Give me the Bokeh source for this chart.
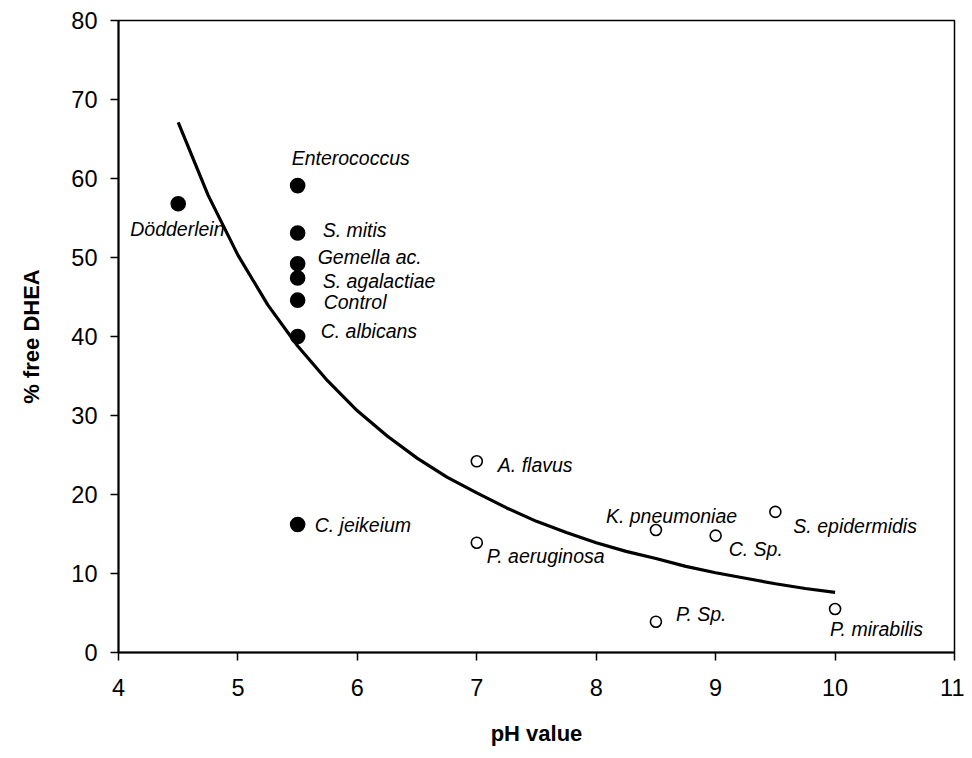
from bokeh.plotting import figure
from bokeh.models import ColumnDataSource, FixedTicker, Range1d
from bokeh.core.properties import value
from bokeh.embed import file_html
from bokeh.resources import INLINE

# ---- data ----
names = ["Dödderlein", "Enterococcus", "S. mitis", "Gemella ac.", "S. agalactiae",
         "Control", "C. albicans", "C.  jeikeium", "A. flavus", "P. aeruginosa",
         "K. pneumoniae", "C. Sp.", "S. epidermidis", "P. Sp.", "P. mirabilis"]
ph = [4.5, 5.5, 5.5, 5.5, 5.5, 5.5, 5.5, 5.5, 7.0, 7.0, 8.5, 9.0, 9.5, 8.5, 10.0]
dhea = [56.8, 59.1, 53.1, 49.2, 47.4, 44.6, 40.0, 16.2, 24.2, 13.9, 15.5, 14.8, 17.8, 3.9, 5.5]
filled = [True, True, True, True, True, True, True, True,
          False, False, False, False, False, False, False]

curve_ph = [4.5, 4.75, 5.0, 5.25, 5.5, 5.75, 6.0, 6.25, 6.5, 6.75, 7.0, 7.25, 7.5,
            7.75, 8.0, 8.25, 8.5, 8.75, 9.0, 9.25, 9.5, 9.75, 10.0]
curve_dhea = [67.1, 57.9, 50.3, 44.0, 38.8, 34.4, 30.6, 27.4, 24.6, 22.2, 20.2, 18.3,
              16.6, 15.2, 13.9, 12.8, 11.9, 10.9, 10.1, 9.4, 8.7, 8.1, 7.6]

x_ticks = [4, 5, 6, 7, 8, 9, 10, 11]
y_ticks = [0, 10, 20, 30, 40, 50, 60, 70, 80]

# ---- label placement (screen pixels, styling only) ----
label_dx = [-48, -6, 25, 20, 25, 26, 23, 17, 21, 10, -50, 13, 18, 20, -5]
label_dy = [25, -28, -3, -7, 3, 2, -6, 0, 4, 13, -14, 13, 14, -8, 20]

FONT = "Liberation Sans"

p = figure(width=964, height=750, output_backend="svg", toolbar_location=None,
           x_range=Range1d(4, 11), y_range=Range1d(0, 80),
           min_border_left=118, min_border_right=10, min_border_top=20, min_border_bottom=98)
p.background_fill_color = "white"
p.border_fill_color = "white"
p.outline_line_color = "black"
p.outline_line_width = 1.5
p.grid.visible = False

for ax in (p.xaxis[0], p.yaxis[0]):
    ax.axis_line_color = "black"
    ax.axis_line_width = 2
    ax.major_tick_line_color = "black"
    ax.major_tick_line_width = 1.5
    ax.major_tick_in = 0
    ax.major_tick_out = 8
    ax.minor_tick_line_color = None
    ax.major_label_text_font = FONT
    ax.major_label_text_font_size = "23.5px"
    ax.major_label_text_color = "black"
    ax.axis_label_text_font = FONT
    ax.axis_label_text_font_style = "bold"
    ax.axis_label_text_font_size = "22px"
    ax.axis_label_text_color = "black"

p.xaxis.ticker = FixedTicker(ticks=x_ticks)
p.yaxis.ticker = FixedTicker(ticks=y_ticks)
p.xaxis.axis_label = "pH value"
p.yaxis.axis_label = "% free DHEA"
p.xaxis.major_label_standoff = 18
p.yaxis.major_label_standoff = 13
p.xaxis.axis_label_standoff = 22
p.yaxis.axis_label_standoff = 24

# trend curve
p.line(curve_ph, curve_dhea, line_color="black", line_width=3.2, line_join="round")

src = ColumnDataSource(dict(
    x=ph, y=dhea, name=names, dx=label_dx, dy=label_dy,
    fill=["black" if f else "white" for f in filled],
    size=[14 if f else 11 for f in filled],
))
p.scatter("x", "y", source=src, marker="circle", size="size",
          fill_color="fill", line_color="black", line_width=1.6)

p.text("x", "y", text="name", source=src, x_offset="dx", y_offset="dy",
       text_font=value(FONT), text_font_style="italic", text_font_size="19.5px",
       text_align="left", text_baseline="middle", text_color="black")

open("out.html", "w").write(file_html(p, INLINE))
